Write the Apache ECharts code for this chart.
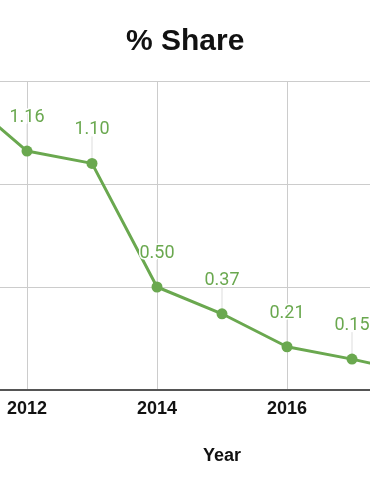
<!DOCTYPE html>
<html>
<head>
<meta charset="utf-8">
<script src="https://cdn.jsdelivr.net/npm/echarts@6/dist/echarts.min.js"></script>
<style>
html,body{margin:0;padding:0;background:#fff;overflow:hidden;width:370px;height:490px;position:relative;}
#chart{position:absolute;left:-103px;top:0;width:650px;height:490px;}
</style>
</head>
<body>
<div id="chart"></div>
<script>
var years = [2011, 2012, 2013, 2014, 2015, 2016, 2017, 2018];
var shares = [1.43, 1.16, 1.10, 0.50, 0.37, 0.21, 0.15, 0.08];
var xTicks = [2010, 2020, 2];
var yTicks = [0, 1.5, 0.5];

var pts = years.map(function (y, i) { return [y, shares[i]]; });
var green = '#6aa84f';

var chart = echarts.init(document.getElementById('chart'));
chart.setOption({
  animation: false,
  backgroundColor: '#fff',
  title: {
    text: '% Share',
    left: 224,
    top: 22,
    textStyle: { fontFamily: 'Liberation Sans, Arial', fontWeight: 'bold', fontSize: 30, color: '#111' }
  },
  grid: { left: 0, right: 0, top: 81, bottom: 100, containLabel: false, outerBoundsMode: 'none' },
  xAxis: {
    type: 'value',
    min: xTicks[0], max: xTicks[1], interval: xTicks[2],
    name: 'Year',
    nameLocation: 'middle',
    nameGap: 57,
    nameTextStyle: { fontFamily: 'Liberation Sans, Arial', fontWeight: 'bold', fontSize: 18, color: '#111' },
    axisLine: { show: true, onZero: false, lineStyle: { color: '#555', width: 2 } },
    axisTick: { show: false },
    axisLabel: {
      margin: 10,
      fontFamily: 'Liberation Sans, Arial', fontWeight: 'bold', fontSize: 18, color: '#111',
      formatter: function (v) { return String(v); }
    },
    splitLine: { show: true, lineStyle: { color: '#cccccc', width: 1 } }
  },
  yAxis: {
    type: 'value',
    min: yTicks[0], max: yTicks[1], interval: yTicks[2],
    axisLine: { show: false },
    axisTick: { show: false },
    axisLabel: { show: false },
    splitLine: { show: true, lineStyle: { color: '#cccccc', width: 1 } }
  },
  series: [
    {
      type: 'custom',
      z: 1,
      silent: true,
      data: pts,
      renderItem: function (params, api) {
        var p = api.coord([api.value(0), api.value(1)]);
        return {
          type: 'line',
          shape: { x1: p[0], y1: p[1] - 5, x2: p[0], y2: p[1] - 27 },
          style: { stroke: '#dddddd', lineWidth: 1 }
        };
      }
    },
    {
      type: 'line',
      z: 3,
      data: pts,
      symbol: 'circle',
      symbolSize: 11,
      lineStyle: { color: green, width: 3 },
      itemStyle: { color: green },
      label: {
        show: true,
        position: 'top',
        distance: 19,
        fontFamily: 'Roboto',
        fontSize: 18,
        color: green,
        textBorderColor: '#fff',
        textBorderWidth: 3,
        formatter: function (p) { return p.value[1].toFixed(2); }
      }
    }
  ]
});
</script>
</body>
</html>
